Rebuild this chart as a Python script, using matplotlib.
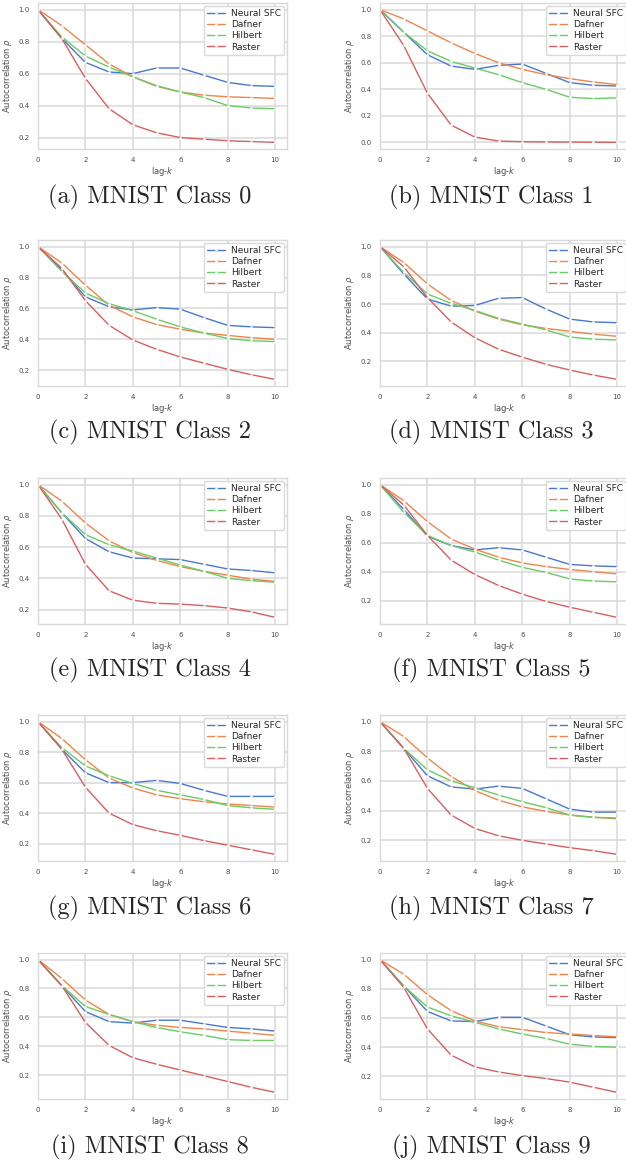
import numpy as np
import matplotlib
matplotlib.use("Agg")
import matplotlib.pyplot as plt
import seaborn as sns

# lag values and per-class autocorrelation curves
lags = list(range(11))
methods = ["Neural SFC", "Dafner", "Hilbert", "Raster"]
captions = ["(a) MNIST Class 0", "(b) MNIST Class 1", "(c) MNIST Class 2",
            "(d) MNIST Class 3", "(e) MNIST Class 4", "(f) MNIST Class 5",
            "(g) MNIST Class 6", "(h) MNIST Class 7", "(i) MNIST Class 8",
            "(j) MNIST Class 9"]

neural_sfc = [
    [1.0, 0.82, 0.67, 0.61, 0.60, 0.635, 0.635, 0.59, 0.545, 0.525, 0.52],
    [1.0, 0.83, 0.66, 0.575, 0.55, 0.58, 0.59, 0.52, 0.45, 0.43, 0.425],
    [1.0, 0.85, 0.675, 0.61, 0.59, 0.605, 0.595, 0.54, 0.49, 0.48, 0.475],
    [1.0, 0.81, 0.635, 0.585, 0.59, 0.64, 0.645, 0.565, 0.495, 0.475, 0.47],
    [1.0, 0.82, 0.655, 0.57, 0.53, 0.525, 0.52, 0.49, 0.46, 0.45, 0.435],
    [1.0, 0.83, 0.645, 0.58, 0.55, 0.565, 0.55, 0.50, 0.45, 0.44, 0.435],
    [1.0, 0.82, 0.665, 0.60, 0.60, 0.615, 0.595, 0.55, 0.51, 0.51, 0.51],
    [1.0, 0.82, 0.635, 0.56, 0.545, 0.565, 0.55, 0.48, 0.41, 0.39, 0.39],
    [1.0, 0.82, 0.64, 0.57, 0.56, 0.58, 0.58, 0.555, 0.53, 0.52, 0.505],
    [1.0, 0.82, 0.645, 0.58, 0.575, 0.605, 0.605, 0.545, 0.485, 0.47, 0.465],
]
dafner = [
    [1.0, 0.90, 0.78, 0.66, 0.58, 0.52, 0.485, 0.465, 0.455, 0.45, 0.445],
    [1.0, 0.93, 0.84, 0.75, 0.67, 0.60, 0.55, 0.51, 0.48, 0.455, 0.435],
    [1.0, 0.895, 0.75, 0.62, 0.545, 0.495, 0.465, 0.44, 0.425, 0.41, 0.40],
    [1.0, 0.89, 0.74, 0.625, 0.55, 0.495, 0.455, 0.43, 0.41, 0.39, 0.375],
    [1.0, 0.895, 0.755, 0.64, 0.565, 0.515, 0.475, 0.445, 0.42, 0.395, 0.38],
    [1.0, 0.89, 0.745, 0.625, 0.555, 0.50, 0.46, 0.435, 0.415, 0.40, 0.385],
    [1.0, 0.89, 0.75, 0.63, 0.565, 0.52, 0.495, 0.475, 0.46, 0.45, 0.44],
    [1.0, 0.90, 0.755, 0.63, 0.535, 0.47, 0.425, 0.395, 0.37, 0.355, 0.345],
    [1.0, 0.87, 0.72, 0.62, 0.57, 0.545, 0.53, 0.52, 0.505, 0.49, 0.475],
    [1.0, 0.90, 0.76, 0.65, 0.58, 0.54, 0.52, 0.50, 0.49, 0.48, 0.47],
]
hilbert = [
    [1.0, 0.83, 0.71, 0.64, 0.58, 0.525, 0.485, 0.45, 0.40, 0.385, 0.38],
    [1.0, 0.83, 0.69, 0.61, 0.56, 0.51, 0.45, 0.40, 0.34, 0.33, 0.335],
    [1.0, 0.84, 0.70, 0.63, 0.585, 0.53, 0.48, 0.44, 0.405, 0.39, 0.385],
    [1.0, 0.82, 0.67, 0.605, 0.555, 0.50, 0.46, 0.42, 0.37, 0.355, 0.35],
    [1.0, 0.82, 0.68, 0.615, 0.575, 0.53, 0.485, 0.445, 0.40, 0.385, 0.375],
    [1.0, 0.81, 0.65, 0.58, 0.535, 0.48, 0.43, 0.395, 0.35, 0.335, 0.33],
    [1.0, 0.83, 0.71, 0.645, 0.595, 0.55, 0.52, 0.49, 0.45, 0.435, 0.425],
    [1.0, 0.82, 0.675, 0.60, 0.555, 0.505, 0.46, 0.42, 0.37, 0.355, 0.35],
    [1.0, 0.82, 0.675, 0.62, 0.57, 0.53, 0.50, 0.475, 0.445, 0.44, 0.44],
    [1.0, 0.82, 0.675, 0.615, 0.57, 0.525, 0.49, 0.46, 0.42, 0.405, 0.40],
]
raster = [
    [1.0, 0.82, 0.57, 0.38, 0.28, 0.23, 0.20, 0.19, 0.18, 0.175, 0.17],
    [1.0, 0.73, 0.37, 0.13, 0.04, 0.01, 0.005, 0.003, 0.002, 0.001, 0.0],
    [1.0, 0.86, 0.65, 0.49, 0.395, 0.335, 0.285, 0.245, 0.205, 0.17, 0.14],
    [1.0, 0.86, 0.645, 0.475, 0.365, 0.285, 0.23, 0.18, 0.14, 0.105, 0.075],
    [1.0, 0.78, 0.49, 0.32, 0.26, 0.24, 0.235, 0.225, 0.21, 0.185, 0.15],
    [1.0, 0.86, 0.65, 0.48, 0.38, 0.305, 0.245, 0.195, 0.155, 0.12, 0.085],
    [1.0, 0.82, 0.57, 0.40, 0.325, 0.285, 0.255, 0.22, 0.19, 0.16, 0.13],
    [1.0, 0.82, 0.55, 0.37, 0.28, 0.23, 0.20, 0.175, 0.15, 0.13, 0.105],
    [1.0, 0.82, 0.565, 0.405, 0.32, 0.275, 0.235, 0.195, 0.155, 0.115, 0.08],
    [1.0, 0.81, 0.525, 0.345, 0.265, 0.23, 0.205, 0.185, 0.16, 0.125, 0.09],
]

sns.set_style("whitegrid")
colors = sns.color_palette("muted", 4)

W, H = 626, 1166
fig = plt.figure(figsize=(W / 100, H / 100), dpi=100)

# panel geometry in pixels
col_left = [38, 380]
col_cap = [150, 491]
row_top = [3, 240, 478, 715, 953]
row_cap = [197, 432, 670, 908, 1147]
ax_w, ax_h = 249, 146

for i in range(10):
    r, c = divmod(i, 2)
    ax = fig.add_axes([col_left[c] / W, 1 - (row_top[r] + ax_h) / H,
                       ax_w / W, ax_h / H])
    series = [neural_sfc[i], dafner[i], hilbert[i], raster[i]]
    for name, vals, col in zip(methods, series, colors):
        ax.plot(lags, vals, color=col, lw=1.0, label=name,
                marker="o", ms=1.6, mfc="white", mec="white", mew=0.3)
    ax.set_xlim(0, 10.5)
    ax.set_xticks([0, 2, 4, 6, 8, 10])
    ax.tick_params(labelsize=5, colors=".3", pad=2.6)
    ax.set_xlabel("lag-$k$", fontsize=6, color=".3", labelpad=1)
    ax.set_ylabel(r"Autocorrelation $\rho$", fontsize=6, color=".3", labelpad=3)
    ax.grid(True, color=".85", lw=1.1)
    for s in ax.spines.values():
        s.set_color(".85")
        s.set_linewidth(1.0)
    ax.legend(loc="upper right", fontsize=6.5, frameon=True, framealpha=1,
              edgecolor=".85", borderpad=0.35, labelspacing=0.25,
              handlelength=2.0, handletextpad=0.7, borderaxespad=0.3)
    fig.text(col_cap[c] / W, 1 - row_cap[r] / H, captions[i],
             ha="center", va="center", fontsize=17.5, family="cmr10")

fig.savefig("out.png", dpi=100)
